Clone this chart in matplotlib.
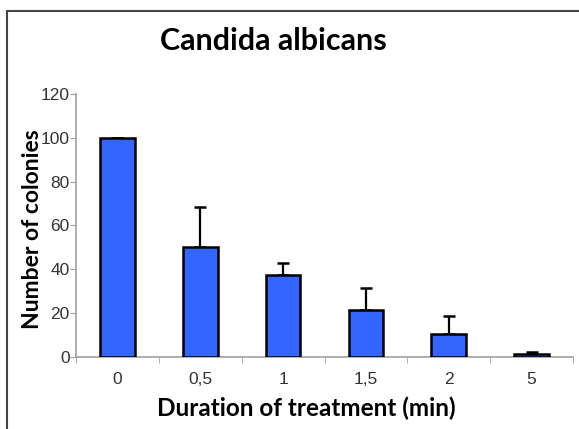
import numpy as np
import matplotlib.pyplot as plt
from matplotlib.patches import Rectangle

durations = ["0", "0,5", "1", "1,5", "2", "5"]
colonies = [100, 50, 37.5, 21.5, 10.5, 1.2]
errors = [0, 18.5, 5.2, 10.2, 8, 1.1]

fig = plt.figure(figsize=(5.79, 4.29), dpi=100)
ax = fig.add_axes([0.1313, 0.1678, 0.8583, 0.6132])

x = np.arange(len(durations))
ax.bar(x, colonies, width=0.42, color="#3366ff", edgecolor="black",
       linewidth=1.8, zorder=3)
ax.errorbar(x, colonies, yerr=[np.zeros(len(errors)), errors], fmt="none",
            ecolor="black", elinewidth=1.6, capsize=4, capthick=1.8, zorder=2)

ax.set_xlim(-0.5, len(durations) - 0.5)
ax.set_ylim(0, 120)
ax.set_yticks(range(0, 121, 20))
ax.set_xticks(x)
ax.set_xticklabels(durations)
ax.set_xticks(np.arange(-0.5, len(durations)), minor=True)

for s in ["top", "right"]:
    ax.spines[s].set_visible(False)
for s in ["left", "bottom"]:
    ax.spines[s].set_color("#a0a0a0")
    ax.spines[s].set_linewidth(1.2)

ax.tick_params(axis="x", which="major", length=0, pad=11,
               labelsize=12.5, labelcolor="#333333")
ax.tick_params(axis="x", which="minor", length=4, color="#a0a0a0")
ax.tick_params(axis="y", length=4, color="#a0a0a0", pad=0.5,
               labelsize=12.5, labelcolor="#333333")
for lab in ax.get_xticklabels() + ax.get_yticklabels():
    lab.set_family("Liberation Sans")

fig.text(306 / 579, 1 - 408 / 429, "Duration of treatment (min)", fontsize=17.5,
         fontweight="bold", family="Lato", ha="center", va="center")
fig.text(33 / 579, 1 - 229 / 429, "Number of colonies", fontsize=16.5,
         fontweight="bold", family="Lato", ha="center", va="center",
         rotation=90)

fig.text(273 / 579, 1 - 41 / 429, "Candida albicans", fontsize=22,
         fontweight="bold", family="Lato", ha="center", va="center")

fig.patches.append(Rectangle((0.012, -0.05), 1.1, 1.024, transform=fig.transFigure,
                             fill=False, edgecolor="#444444", linewidth=1.5))

fig.savefig("out.png", dpi=100)
